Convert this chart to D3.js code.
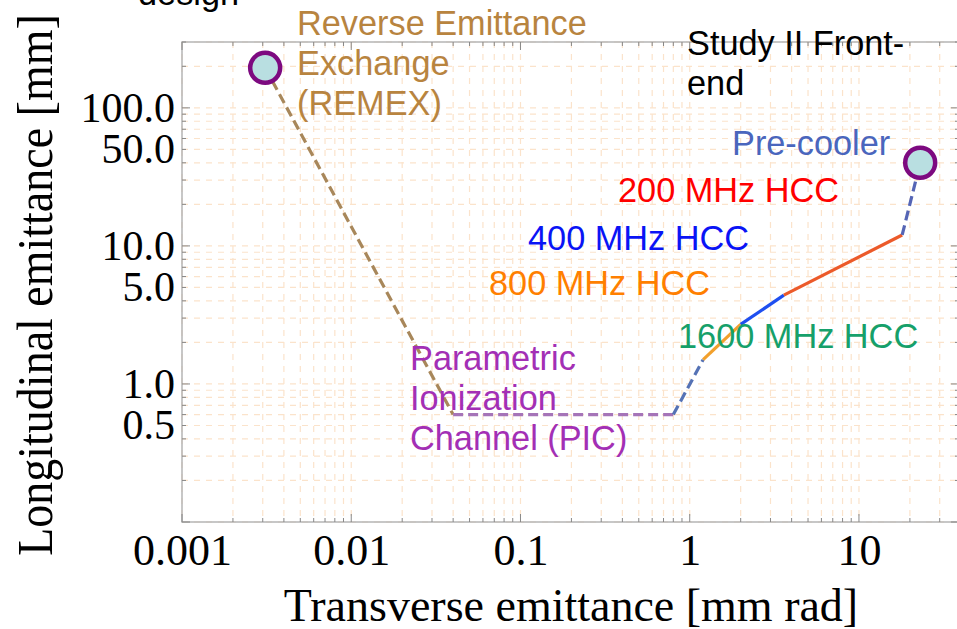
<!DOCTYPE html>
<html><head><meta charset="utf-8">
<script src="https://cdn.jsdelivr.net/npm/d3@7"></script>
<style>body{margin:0;background:#fff}</style>
</head><body><svg id="c" width="957" height="629"></svg>
<script>
// ---- data ----
const xTickValues = [0.001, 0.01, 0.1, 1, 10];
const xTickLabels = ["0.001", "0.01", "0.1", "1", "10"];
const yTickValues = [0.5, 1, 5, 10, 50, 100];
const yTickLabels = ["0.5", "1.0", "5.0", "10.0", "50.0", "100.0"];
const remex     = [[0.0031, 195], [0.04, 0.6]];
const pic       = [[0.04, 0.6], [0.8, 0.6]];
const picToHcc  = [[0.8, 0.6], [1.2, 1.5]];
const hcc800    = [[1.2, 1.5], [2.0, 2.7]];
const hcc400    = [[2.0, 2.7], [3.6, 4.4]];
const hcc200    = [[3.6, 4.4], [18, 12]];
const precooler = [[18, 12], [23, 40]];
const endpoints = [[0.0031, 195], [23, 40]];
const xLabel = "Transverse emittance [mm rad]";
const yLabel = "Longitudinal emittance [mm]";

// ---- drawing ----
const svg = d3.select("#c");
const L = 182, R = 959, T = 42, B = 522;
const x = d3.scaleLog().domain([0.001, 39]).range([L, R]);
const y = d3.scaleLog().domain([0.1, 300]).range([B, T]);

// minor values
const xMinor = [], yMinor = [];
for (let e = -3; e <= 1; e++) for (let m = 1; m <= 9; m++) { const v = m * Math.pow(10, e); if (v <= 39) xMinor.push(v); }
for (let e = -1; e <= 2; e++) for (let m = 1; m <= 9; m++) { const v = m * Math.pow(10, e); if (v <= 300) yMinor.push(v); }

const grid = svg.append("g").attr("stroke", "#fbe3cb").attr("stroke-width", 1.2).attr("stroke-dasharray", "6,6");
grid.selectAll(".gx").data(xMinor).join("line")
  .attr("x1", d => x(d)).attr("x2", d => x(d)).attr("y1", T).attr("y2", B);
grid.selectAll(".gy").data(yMinor).join("line")
  .attr("y1", d => y(d)).attr("y2", d => y(d)).attr("x1", L).attr("x2", R);

// frame
svg.append("rect").attr("x", L).attr("y", T).attr("width", R - L).attr("height", B - T)
  .attr("fill", "none").attr("stroke", "#b5b5b5").attr("stroke-width", 1.5);

// frame ticks
const tk = svg.append("g").attr("stroke", "#888").attr("stroke-width", 1);
const isMajor = v => Math.abs(Math.log10(v) - Math.round(Math.log10(v))) < 1e-6;
tk.selectAll(".tb").data(xMinor).join("line")
  .attr("x1", d => x(d)).attr("x2", d => x(d)).attr("y1", B).attr("y2", d => B - (isMajor(d) ? 8 : 4));
tk.selectAll(".tt").data(xMinor).join("line")
  .attr("x1", d => x(d)).attr("x2", d => x(d)).attr("y1", T).attr("y2", d => T + (isMajor(d) ? 8 : 4));
tk.selectAll(".tl").data(yMinor).join("line")
  .attr("y1", d => y(d)).attr("y2", d => y(d)).attr("x1", L).attr("x2", d => L + (isMajor(d) ? 8 : 4));
tk.selectAll(".tr").data(yMinor).join("line")
  .attr("y1", d => y(d)).attr("y2", d => y(d)).attr("x1", R).attr("x2", d => R - (isMajor(d) ? 8 : 4));

// axes labels via d3 axes
const xAxis = d3.axisBottom(x).tickValues(xTickValues).tickFormat((d, i) => xTickLabels[i]).tickSize(0).tickPadding(12);
const gx = svg.append("g").attr("transform", `translate(0,${B})`).call(xAxis);
gx.select(".domain").remove();
gx.selectAll("text").attr("font-family", "Liberation Serif, Times New Roman, serif").attr("font-size", 44).attr("fill", "#000");

const yAxis = d3.axisLeft(y).tickValues(yTickValues).tickFormat((d, i) => yTickLabels[i]).tickSize(0).tickPadding(7);
const gy = svg.append("g").attr("transform", `translate(${L},0)`).call(yAxis);
gy.select(".domain").remove();
gy.selectAll("text").attr("font-family", "Liberation Serif, Times New Roman, serif").attr("font-size", 42).attr("fill", "#000");

svg.append("text").attr("x", 571).attr("y", 621).attr("text-anchor", "middle")
  .attr("font-family", "Liberation Serif, Times New Roman, serif").attr("font-size", 46).text(xLabel);
svg.append("text").attr("transform", "translate(52,285) rotate(-90) scale(1,1.12)").attr("text-anchor", "middle")
  .attr("font-family", "Liberation Serif, Times New Roman, serif").attr("font-size", 46).text(yLabel);

// lines
const line = d3.line().x(d => x(d[0])).y(d => y(d[1]));
const segs = [
  [remex, "#a8875a", "10,5"],
  [pic, "#a574b8", "10,5"],
  [picToHcc, "#5572b5", "10,5"],
  [hcc800, "#f2a02c", null],
  [hcc400, "#1f4ff0", null],
  [hcc200, "#ec5a2a", null],
  [precooler, "#5565b5", "10,5"]
];
segs.forEach(([d, c, dash]) => {
  svg.append("path").attr("d", line(d)).attr("fill", "none").attr("stroke", c)
    .attr("stroke-width", 3.2).attr("stroke-dasharray", dash);
});
svg.selectAll(".pt").data(endpoints).join("circle")
  .attr("cx", d => x(d[0])).attr("cy", d => y(d[1])).attr("r", 15)
  .attr("fill", "#b9dfe1").attr("stroke", "#7d0a80").attr("stroke-width", 4.5);

// annotations
const ann = [
  {lines: ["design"], x: 138, y: 5, c: "#000"},
  {lines: ["Reverse Emittance", "Exchange", "(REMEX)"], x: 297, y: 35, c: "#b8843f"},
  {lines: ["Study II Front-", "end"], x: 687, y: 55, c: "#000"},
  {lines: ["Pre-cooler"], x: 732, y: 155, c: "#4a66bd"},
  {lines: ["200 MHz HCC"], x: 618, y: 202, c: "#ff0000"},
  {lines: ["400 MHz HCC"], x: 528, y: 250, c: "#0a14f5"},
  {lines: ["800 MHz HCC"], x: 489, y: 295, c: "#ff7f00"},
  {lines: ["1600 MHz HCC"], x: 678, y: 348, c: "#16a06a"},
  {lines: ["Parametric", "Ionization", "Channel (PIC)"], x: 410, y: 370, c: "#a32fb5"}
];
ann.forEach(a => {
  const t = svg.append("text").attr("font-family", "Liberation Sans, Arial, sans-serif")
    .attr("font-size", 34.3).attr("fill", a.c);
  a.lines.forEach((s, i) => t.append("tspan").attr("x", a.x).attr("y", a.y + i * 40).text(s));
});
</script></body></html>
